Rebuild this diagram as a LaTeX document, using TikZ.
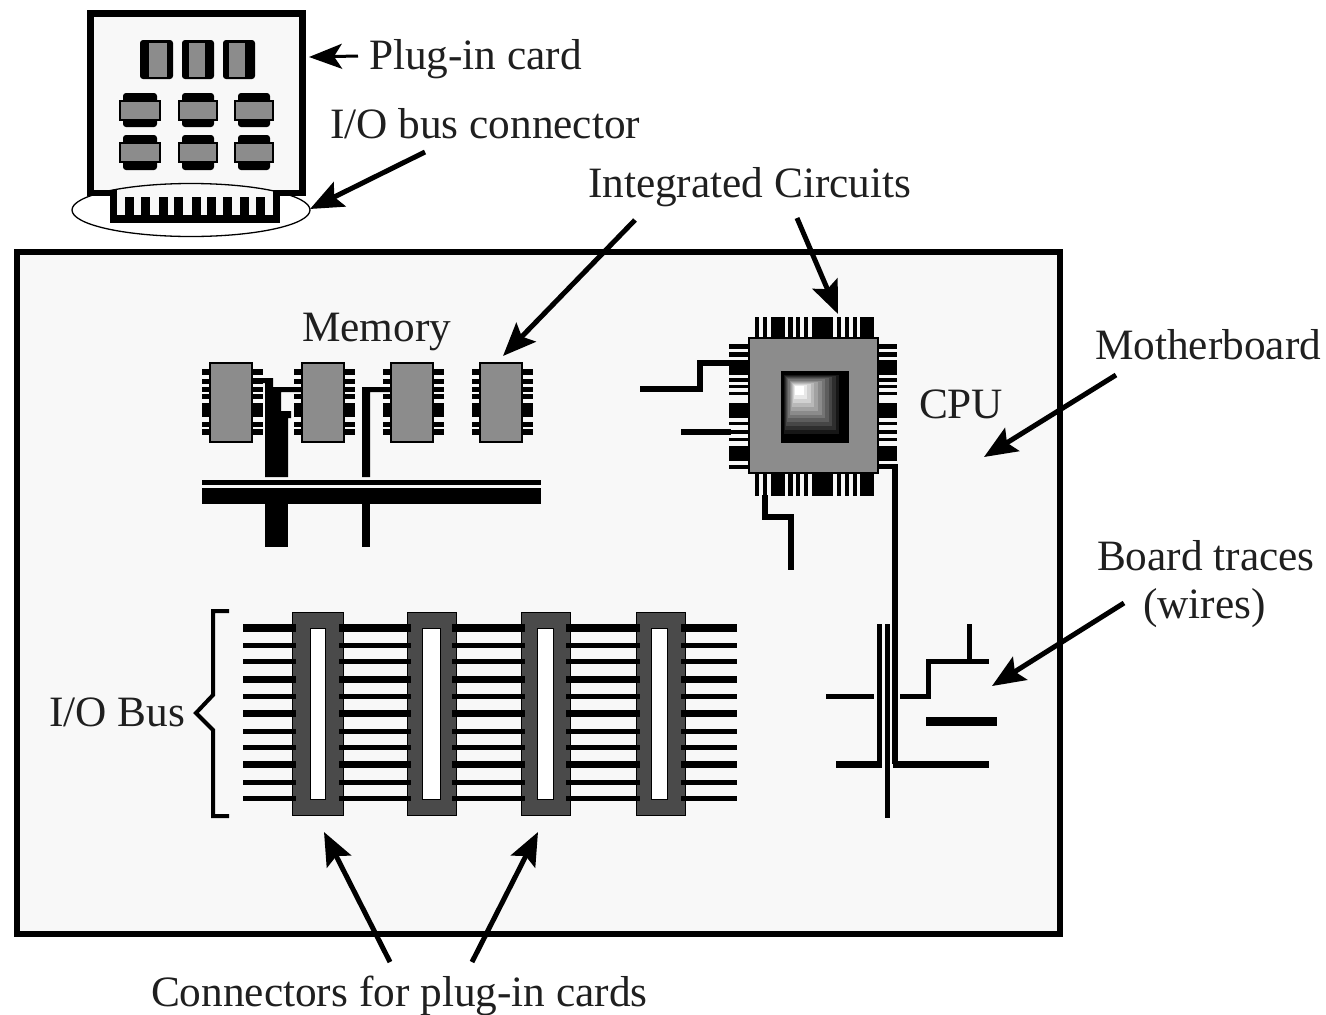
\documentclass[tikz,border=0pt]{standalone}
\usepackage{fontspec}
\setmainfont{Liberation Serif}
\usetikzlibrary{arrows.meta}
\definecolor{boardbg}{HTML}{F8F8F8}
\definecolor{chipgray}{HTML}{8C8C8C}
\definecolor{slotgray}{HTML}{4A4A4A}
\tikzset{
  lbl/.style={anchor=base west,inner sep=0pt,outer sep=0pt,font=\fontsize{43.3}{50}\selectfont,text=black!88},
  callout/.style={line width=5pt,-{Stealth[length=33pt,width=27pt,inset=6pt]}},
  thinout/.style={line width=3pt,-{Stealth[length=33pt,width=25pt,inset=8pt]}},
  trace/.style={line width=#1,draw=black,line cap=butt,line join=miter},
  chipbody/.style={fill=chipgray,draw=black,line width=1.5pt},
  cardchip/.style={fill=black,rounded corners=3pt}
}
\newcommand{\memchip}[1]{%
  \foreach \ya/\yb in {368.5/375,378.5/383.5,386.5/391.5,394/399,403/417,421.5/426.5,429/434.5}{
    \fill (#1-8,\ya) rectangle (#1+4,\yb);
    \fill (#1+38,\ya) rectangle (#1+53,\yb);
  }
  \draw[chipbody] (#1,363) rectangle (#1+42,442);
}
\begin{document}
\begin{tikzpicture}[x=1pt,y=-1pt]
\useasboundingbox (0,0) rectangle (1326,1015);
\fill[white] (0,0) rectangle (1326,1015);

% plug-in card
\draw[line width=7pt,fill=boardbg] (90.5,13.5) rectangle (302.5,193);
\foreach \xa/\xb/\ga/\gb in {140/173/148/167,182/214/188/205,223/255/228/245}{
  \fill[cardchip] (\xa,40) rectangle (\xb,79);
  \draw[chipbody,line width=1pt] (\ga,42) rectangle (\gb,77);
}
\foreach \ya/\yb/\gya/\gyb in {93/127/101/120,135/170/143/162}{
  \foreach \xa/\xb in {120/160,179/217,235/273}{
    \fill[cardchip] (\xa+3,\ya) rectangle (\xb-3,\yb);
    \draw[chipbody,line width=1.5pt] (\xa,\gya) rectangle (\xb,\gyb);
  }
}
\fill[white] (60,196) rectangle (340,240);
\fill[boardbg] (110,190) rectangle (280,223);
\fill (110,190) rectangle (117,223);
\fill (273,190) rectangle (280,223);
\fill (110,215) rectangle (280,223);
\foreach \tx in {125,141,159,174,192,207,223,240,256}{
  \fill (\tx,197) rectangle (\tx+9,216);
}
\fill (87,190) rectangle (110,196);
\fill (280,190) rectangle (306,196);
\draw[line width=1.3pt] (191,210) ellipse [x radius=119,y radius=26.5];

% motherboard
\draw[line width=6pt,fill=boardbg] (17,252) rectangle (1060,934);

% memory chips
\memchip{210}
\memchip{302}
\memchip{391}
\memchip{480}
\fill (252,378) -- (273,378) -- (273,387) -- (302,387) -- (302,392) -- (281,392) -- (281,411) -- (291,411) -- (291,418) -- (288,418) -- (288,477) -- (265,477) -- (265,383) -- (252,383) -- cycle;
\fill (362,477) -- (362,387) -- (391,387) -- (391,392) -- (370,392) -- (370,477) -- cycle;
\fill (202,480) rectangle (541,485);
\fill (202,488) rectangle (541,504);
\fill (265,504) rectangle (288,547);
\fill (362,504) rectangle (370,547);

% cpu pins
\foreach \xa/\xb in {755/759,763/767,771/785,788/793,796/800,804/808,812/833,837/841,845/849,853/857,860/874}{
  \fill (\xa,317) rectangle (\xb,340);
  \fill (\xa,470) rectangle (\xb,496);
}
\foreach \ya/\yb in {344/349,352/357,360/375,378/382,385/388,392/395,403/418,422/425,430/434,438/441,446/461,465/469}{
  \fill (729,\ya) rectangle (752,\yb);
  \fill (875,\ya) rectangle (897,\yb);
}
\draw[chipbody,line width=2.5pt] (749,338) rectangle (878,473);
\fill (780.5,371) rectangle (848.5,443);
\foreach \i in {0,...,11}{
  \pgfmathsetmacro{\pct}{\i/11*100}
  \pgfmathsetmacro{\t}{\i/12}
  \pgfmathsetmacro{\lx}{783+(796-783)*\t}
  \pgfmathsetmacro{\ty}{374+(387-374)*\t}
  \pgfmathsetmacro{\rx}{843+(800-843)*\t}
  \pgfmathsetmacro{\by}{438+(391-438)*\t}
  \fill[white!\pct!black] (\lx,\ty) rectangle (\rx,\by);
}
% cpu traces
\draw[trace=6pt] (640,389) -- (700,389) -- (700,363) -- (731,363);
\draw[trace=6pt] (681,432) -- (731,432);
\draw[trace=5.5pt] (765,495) -- (765,517) -- (791,517) -- (791,570);
\draw[trace=5.5pt] (878,466.5) -- (895,466.5) -- (895,764);

% board traces
\draw[trace=5pt] (879,624) -- (879,764);
\draw[trace=7.5pt] (881.5,764.5) -- (836,764.5);
\draw[trace=7.5pt] (893,764.5) -- (989,764.5);
\draw[trace=5pt] (887,624) -- (887,818);
\draw[trace=5pt] (826,696) -- (874,696);
\draw[trace=5pt] (900,696) -- (928,696) -- (928,661) -- (989,661);
\draw[trace=5pt] (969,624) -- (969,661);
\fill (926,717) rectangle (997,726);

% I/O bus connectors
\foreach \xa/\xb/\sa/\sb in {292/343/310/325,407/456/422/440,521/570/537/553,636/685/651/667}{
  \fill[slotgray,draw=black,line width=1pt] (\xa,612) rectangle (\xb,815);
  \fill[white,draw=black,line width=1pt] (\sa,628) rectangle (\sb,799);
}
\foreach \wy/\wt in {628/8,645/5,661/5,679/7,696/5,713/7,731/5,747/5,764/7,782/5,798/5}{
  \foreach \xa/\xb in {243/296,339/411,452/525,566/640,681/737}{
    \fill (\xa,\wy-\wt/2) rectangle (\xb,\wy+\wt/2);
  }
}
% brace
\draw[line width=4pt,line join=miter] (229,611) -- (213,611) -- (213,695) -- (196,713) -- (213,730) -- (213,816) -- (229,816);

% labels
\node[lbl] (plug) at (369,69) {Plug-in card};
\node[lbl] (iobc) at (330,138) {I/O bus connector};
\node[lbl] (ics) at (588,197) {Integrated Circuits};
\node[lbl] (mem) at (302,341) {Memory};
\node[lbl] (cpu) at (919,418) {CPU};
\node[lbl] (mb) at (1095,359) {Motherboard};
\node[lbl] (bt) at (1097,570) {Board traces};
\node[lbl] (wires) at (1143,618) {(wires)};
\node[lbl] (iob) at (49,726) {I/O Bus};
\node[lbl] (conn) at (151,1006) {Connectors for plug-in cards};

% callouts
\coordinate (a1s) at (358,56);   \coordinate (a1e) at (309,57);
\coordinate (a2s) at (425,152);  \coordinate (a2e) at (310,209);
\coordinate (a3s) at (635,220);  \coordinate (a3e) at (503,356);
\coordinate (a4s) at (797,218);  \coordinate (a4e) at (838,314);
\coordinate (a5s) at (1116,375); \coordinate (a5e) at (984,457);
\coordinate (a6s) at (1124,603); \coordinate (a6e) at (992,686);
\coordinate (a7s) at (390,962);  \coordinate (a7e) at (324,832);
\coordinate (a8s) at (472,962);  \coordinate (a8e) at (538,832);
\draw[thinout] (a1s) -- (a1e);
\draw[callout] (a2s) -- (a2e);
\draw[callout] (a3s) -- (a3e);
\draw[callout] (a4s) -- (a4e);
\draw[callout] (a5s) -- (a5e);
\draw[callout] (a6s) -- (a6e);
\draw[callout] (a7s) -- (a7e);
\draw[callout] (a8s) -- (a8e);
\end{tikzpicture}
\end{document}
